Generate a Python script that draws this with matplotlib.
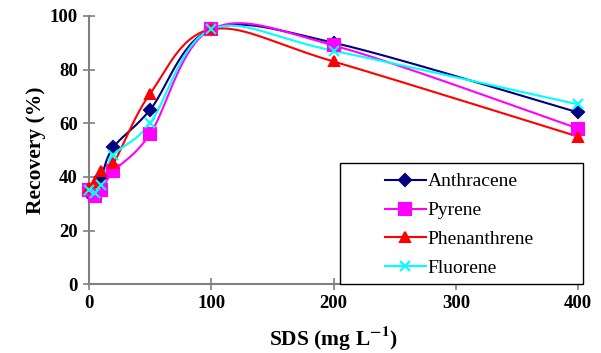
import numpy as np
import matplotlib
matplotlib.use("Agg")
import matplotlib.pyplot as plt
from matplotlib.patches import Rectangle

plt.rcParams['font.family'] = ['Liberation Serif', 'DejaVu Serif']
plt.rcParams['mathtext.fontset'] = 'stix'
plt.rcParams['mathtext.default'] = 'bf'

sds = [0, 5, 10, 20, 50, 100, 200, 400]
anthracene = [34, 36, 40, 51, 65, 95, 90, 64]
pyrene = [35, 33, 35, 42, 56, 95, 89, 58]
phenanthrene = [36, 38, 42, 45, 71, 95, 83, 55]
fluorene = [35, 34, 37, 48, 60, 95, 87, 67]

series = [
    ("Anthracene", anthracene, "#000080", "D", 6),
    ("Pyrene", pyrene, "#FF00FF", "s", 8),
    ("Phenanthrene", phenanthrene, "#FF0000", "^", 7.5),
    ("Fluorene", fluorene, "#00FFFF", "x", 7),
]


def smooth(x, y, n=40):
    x = np.asarray(x, float)
    y = np.asarray(y, float)
    P = np.column_stack([x, y])
    Pe = np.vstack([P[0], P, P[-1]])
    out = []
    t = np.linspace(0, 1, n)[:, None]
    for i in range(len(P) - 1):
        p0, p3 = P[i], P[i + 1]
        b1 = p0 + (Pe[i + 2] - Pe[i]) / 6.0
        b2 = p3 - (Pe[i + 3] - Pe[i + 1]) / 6.0
        seg = ((1 - t) ** 3) * p0 + 3 * ((1 - t) ** 2) * t * b1 + 3 * (1 - t) * t ** 2 * b2 + t ** 3 * p3
        out.append(seg if i == 0 else seg[1:])
    out = np.vstack(out)
    return out[:, 0], out[:, 1]


fig = plt.figure(figsize=(6.01, 3.53), dpi=100)
ax = fig.add_axes([0.148, 0.195, 0.814, 0.76])

handles = []
for name, vals, col, mk, ms in series:
    sx, sy = smooth(sds, vals)
    ax.plot(sx, sy, color=col, lw=1.5, zorder=3, clip_on=False)
    ax.plot(sds, vals, linestyle='none', marker=mk, color=col, ms=ms,
            mew=1.5, zorder=4, clip_on=False)
    h, = ax.plot([], [], color=col, lw=1.5, marker=mk, ms=ms, mew=1.5)
    handles.append((h, name))

ax.set_xlim(0, 400)
ax.set_ylim(0, 100)
ax.set_xticks([0, 100, 200, 300, 400])
ax.set_yticks([0, 20, 40, 60, 80, 100])
for s in ['top', 'right']:
    ax.spines[s].set_visible(False)
for s in ['left', 'bottom']:
    ax.spines[s].set_color('#808080')
    ax.spines[s].set_linewidth(1.5)
ax.tick_params(colors='#808080', width=1.2, length=8, direction='inout',
               labelsize=13.5, labelcolor='black', pad=4)
for lab in ax.get_xticklabels() + ax.get_yticklabels():
    lab.set_fontweight('bold')

ax.set_xlabel('SDS (mg L$^{-1}$)', fontsize=15.5, fontweight='bold', labelpad=8)
ax.set_ylabel('Recovery (%)', fontsize=15.5, fontweight='bold', labelpad=3)

rect = Rectangle((0.513, 0.0), 0.497, 0.451, transform=ax.transAxes,
                 fill=True, facecolor='white', edgecolor='black', lw=1.0,
                 clip_on=False, zorder=5)
ax.add_patch(rect)
leg = ax.legend([h for h, _ in handles], [n for _, n in handles],
                loc='upper left', bbox_to_anchor=(0.605, 0.415), frameon=False,
                fontsize=14, handlelength=2.1, handletextpad=0.1,
                labelspacing=0.58, borderaxespad=0, borderpad=0)
leg.set_zorder(6)

fig.savefig('out.png', dpi=100)
